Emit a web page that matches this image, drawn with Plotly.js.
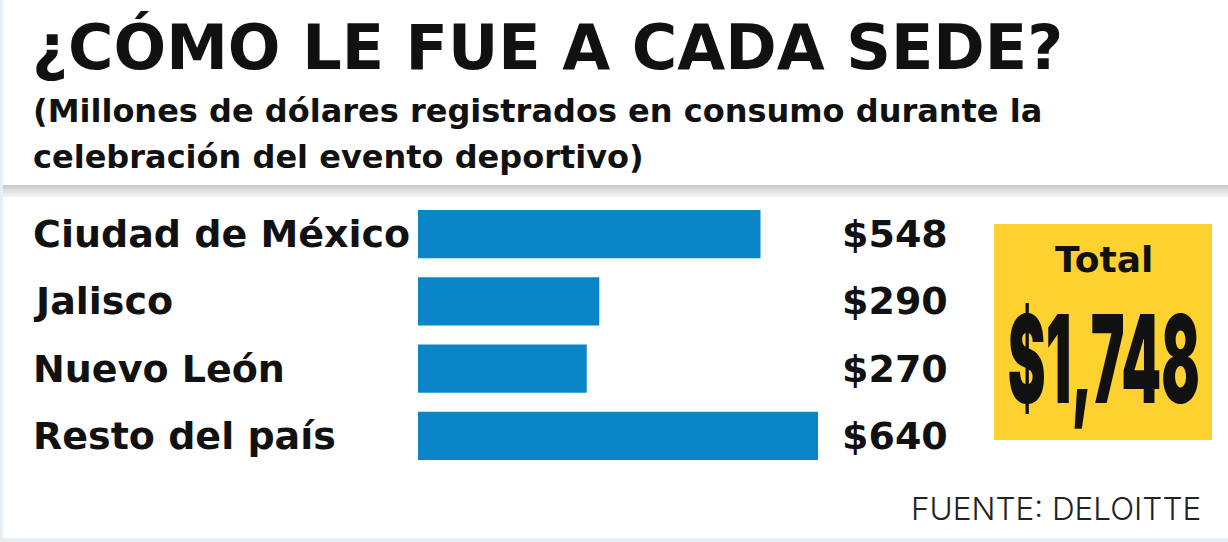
<!DOCTYPE html>
<html>
<head>
<meta charset="utf-8">
<script src="https://cdn.plot.ly/plotly-3.0.1.min.js"></script>
<style>
  html, body { margin: 0; padding: 0; background: #ffffff; }
  #chart { width: 1228px; height: 542px; }
</style>
</head>
<body>
<div id="chart"></div>
<script>
// Consumo registrado por sede (millones de dólares)
const sedes = ["Ciudad de México", "Jalisco", "Nuevo León", "Resto del país"];
const consumo = [548, 290, 270, 640];

const titulo = "¿CÓMO LE FUE A CADA SEDE?";
const subtitulo = ["(Millones de dólares registrados en consumo durante la",
                   "celebración del evento deportivo)"];
const fuente = "FUENTE: DELOITTE";
const etiquetaTotal = "Total";

const W = 1228, H = 542;
const px = v => v / W;          // píxel horizontal -> coordenada paper
const py = v => 1 - v / H;      // píxel vertical (desde arriba) -> coordenada paper

const fmt = v => "$" + String(v).replace(/\B(?=(\d{3})+(?!\d))/g, ",");
const total = consumo.reduce((a, b) => a + b, 0);

const heavy = "'DejaVu Sans', 'Noto Sans', sans-serif";

const bars = {
  type: "bar",
  orientation: "h",
  y: sedes,
  x: consumo,
  marker: { color: "#0a86c8", line: { width: 0 } },
  hoverinfo: "skip"
};

const annotations = [];

// encabezado
annotations.push({
  xref: "paper", yref: "paper", x: px(30), y: py(47),
  xanchor: "left", yanchor: "middle", showarrow: false,
  text: titulo, font: { family: heavy, size: 62, weight: 700, color: "#111111" }
});
subtitulo.forEach((line, i) => {
  annotations.push({
    xref: "paper", yref: "paper", x: px(31), y: py(111 + i * 46),
    xanchor: "left", yanchor: "middle", showarrow: false,
    text: line, font: { family: heavy, size: 32, weight: 700, color: "#111111" }
  });
});

// nombres de sede y montos
sedes.forEach((s, i) => {
  annotations.push({
    xref: "paper", yref: "y", x: px(31), y: s,
    xanchor: "left", yanchor: "middle", showarrow: false,
    text: s, font: { family: heavy, size: 38, weight: 700, color: "#111111" }
  });
  annotations.push({
    xref: "paper", yref: "y", x: px(950), y: s,
    xanchor: "right", yanchor: "middle", showarrow: false,
    text: fmt(consumo[i]), font: { family: heavy, size: 38, weight: 700, color: "#111111" }
  });
});

// recuadro del total
annotations.push({
  xref: "paper", yref: "paper", x: px(1104), y: py(259),
  xanchor: "center", yanchor: "middle", showarrow: false,
  text: etiquetaTotal, font: { family: heavy, size: 36, weight: 700, color: "#111111" }
});
const idxTotal = annotations.length;
annotations.push({
  xref: "paper", yref: "paper", x: px(1104), y: py(358),
  xanchor: "center", yanchor: "middle", showarrow: false,
  text: fmt(total), font: { family: "Inter, 'DejaVu Sans', sans-serif", size: 122, weight: 900, color: "#111111" }
});

// fuente
annotations.push({
  xref: "paper", yref: "paper", x: px(1203), y: py(508),
  xanchor: "right", yanchor: "middle", showarrow: false,
  text: fuente, font: { family: "Inter, Lato, sans-serif", size: 31.5, weight: 300, color: "#222222" }
});

// franja gris con degradado bajo el encabezado
const franja = ["#cbcbcb", "#d3d3d3", "#dcdcdc", "#e4e4e4", "#ebebeb", "#f2f2f2"];
const shapes = franja.map((c, i) => ({
  type: "rect", xref: "paper", yref: "paper", x0: 0, x1: 1,
  y0: py(185 + 2 * (i + 1)), y1: py(185 + 2 * i),
  line: { width: 0 }, fillcolor: c, layer: "below"
}));
shapes.push(
  // recuadro amarillo
  { type: "rect", xref: "paper", yref: "paper", x0: px(994), x1: px(1212), y0: py(440), y1: py(224),
    line: { width: 0 }, fillcolor: "#fdd22f", layer: "below" },
  // bordes claros
  { type: "rect", xref: "paper", yref: "paper", x0: 0, x1: px(3), y0: 0, y1: 1,
    line: { width: 0 }, fillcolor: "#e8eef2", layer: "below" },
  { type: "rect", xref: "paper", yref: "paper", x0: 0, x1: 1, y0: 0, y1: 4 / H,
    line: { width: 0 }, fillcolor: "#e8eef2", layer: "below" }
);

const layout = {
  width: W, height: H,
  margin: { l: 0, r: 0, t: 0, b: 0 },
  paper_bgcolor: "#ffffff",
  plot_bgcolor: "rgba(0,0,0,0)",
  showlegend: false,
  bargap: 0.28,
  xaxis: {
    domain: [px(418), px(830)],
    range: [0, 412 / 0.625],
    visible: false, fixedrange: true
  },
  yaxis: {
    domain: [py(469.5), py(200.5)],
    autorange: "reversed",
    visible: false, fixedrange: true
  },
  annotations: annotations,
  shapes: shapes
};

// la cifra total se comprime en horizontal para que quepa en el recuadro,
// como una tipografía condensada
const anchoTotal = 192;
function condensarTotal(gd) {
  const g = gd.querySelector('.annotation[data-index="' + idxTotal + '"]');
  let t = g ? g.querySelector("text") : null;
  if (!t) {
    gd.querySelectorAll("text").forEach(el => { if (el.textContent === fmt(total)) t = el; });
  }
  if (!t) return;
  t.removeAttribute("transform");
  const bb = t.getBBox();
  if (!bb.width) return;
  const cx = bb.x + bb.width / 2;
  const s = Math.min(1, anchoTotal / bb.width);
  t.setAttribute("transform", "translate(" + cx + ",0) scale(" + s + ",1) translate(" + (-cx) + ",0)");
}

const gd = document.getElementById("chart");
const p = Plotly.newPlot(gd, [bars], layout, { displayModeBar: false, staticPlot: true });
condensarTotal(gd);
if (p && p.then) p.then(() => condensarTotal(gd));
</script>
</body>
</html>
